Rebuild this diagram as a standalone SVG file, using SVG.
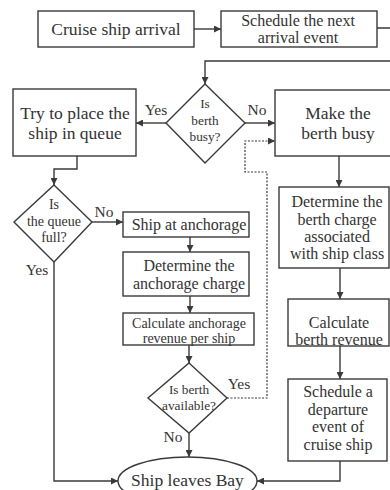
<svg xmlns="http://www.w3.org/2000/svg" width="390" height="490" viewBox="0 0 390 490">
<defs>
<marker id="ah" viewBox="0 0 10 10" refX="10" refY="5" markerWidth="7" markerHeight="7" markerUnits="userSpaceOnUse" orient="auto">
<path d="M0,0 L10,5 L0,10 Z" fill="#3a3a3a"/>
</marker>
</defs>
<style>
.n{fill:#fff;stroke:#3a3a3a;stroke-width:1.4}
.c{fill:none;stroke:#3a3a3a;stroke-width:1.4;marker-end:url(#ah)}
.d{stroke-dasharray:2,1.5;stroke-width:1.2}
text{font-family:'Liberation Serif','DejaVu Serif',serif;fill:#333;text-anchor:middle}
.l{font-size:17.5px}
.m{font-size:16px}
.s{font-size:14px}
.t{font-size:13.3px}
.lab{font-size:15.5px}
</style>
<rect width="390" height="490" fill="#fff"/>
<g id="connectors" font-family="Liberation Serif, serif">
<path class="c" d="M194,29 H221"/>
<path class="c" d="M377,28 H396 V61 H205 V84"/>
<path class="c" d="M166,123 H136"/>
<path class="c" d="M245,123 H275"/>
<path class="c" d="M77,156 V169 H54 V185"/>
<path class="c" d="M92,222 H123"/>
<path class="c" d="M190,237 V252"/>
<path class="c" d="M190,296 V313"/>
<path class="c" d="M189,345 V363"/>
<path class="c" d="M189,433 V457"/>
<path class="c" d="M54,262 V481 H118"/>
<path class="c d" d="M227,398 H267 V172 H245 V141 H275"/>
<path class="c" d="M339,156 V187"/>
<path class="c" d="M340,268 V299"/>
<path class="c" d="M340,346 V379"/>
<path class="c" d="M340,461 V481 H257"/>
<text class="lab" x="156" y="115">Yes</text>
<text class="lab" x="257" y="115">No</text>
<text class="lab" x="104" y="217">No</text>
<text class="lab" x="37" y="275">Yes</text>
<text class="lab" x="239" y="389">Yes</text>
<text class="lab" x="173" y="442">No</text>
</g>
<g id="n1">
<rect class="n" x="38" y="11" width="156" height="36"/>
<text class="l" x="116" y="35">Cruise ship arrival</text>
</g>
<g id="n2">
<rect class="n" x="221" y="11" width="156" height="36"/>
<text class="m" x="298" y="26">Schedule the next</text>
<text class="m" x="298" y="43">arrival event</text>
</g>
<g id="n3">
<polygon class="n" points="205,84 245,123 205,163 166,123"/>
<text class="t" x="205" y="108">Is</text>
<text class="t" x="205" y="125">berth</text>
<text class="t" x="205" y="141">busy?</text>
</g>
<g id="n4">
<rect class="n" x="13" y="89" width="123" height="67"/>
<text class="l" x="75" y="119">Try to place the</text>
<text class="l" x="75" y="139">ship in queue</text>
</g>
<g id="n5">
<rect class="n" x="275" y="90" width="126" height="66"/>
<text class="l" x="338" y="119">Make the</text>
<text class="l" x="338" y="139">berth busy</text>
</g>
<g id="n6">
<polygon class="n" points="54,185 92,222 54,262 14,222"/>
<text class="s" x="54" y="209">Is</text>
<text class="s" x="54" y="226">the queue</text>
<text class="s" x="54" y="242">full?</text>
</g>
<g id="n7">
<rect class="n" x="123" y="212" width="126" height="25"/>
<text class="m" x="189" y="230">Ship at anchorage</text>
</g>
<g id="n8">
<rect class="n" x="123" y="252" width="126" height="44"/>
<text class="m" x="189" y="271">Determine the</text>
<text class="m" x="189" y="289">anchorage charge</text>
</g>
<g id="n9">
<rect class="n" x="123" y="313" width="131" height="32"/>
<text class="s" x="189" y="327.5">Calculate anchorage</text>
<text class="s" x="189" y="343">revenue per ship</text>
</g>
<g id="n10">
<polygon class="n" points="189,363 227,398 189,433 148,398"/>
<text class="t" x="189" y="394">Is berth</text>
<text class="t" x="189" y="410">available?</text>
</g>
<g id="n11">
<rect class="n" x="279" y="187" width="110" height="81"/>
<text class="m" x="337" y="207">Determine the</text>
<text class="m" x="337" y="224.5">berth charge</text>
<text class="m" x="337" y="242">associated</text>
<text class="m" x="337" y="259">with ship class</text>
</g>
<g id="n12">
<rect class="n" x="288" y="299" width="101" height="47"/>
<text class="m" x="339" y="328">Calculate</text>
<text class="m" x="339" y="345">berth revenue</text>
</g>
<g id="n13">
<rect class="n" x="288" y="379" width="99" height="82"/>
<text class="m" x="338" y="397">Schedule a</text>
<text class="m" x="338" y="414.5">departure</text>
<text class="m" x="338" y="432">event of</text>
<text class="m" x="338" y="450">cruise ship</text>
</g>
<g id="n14">
<ellipse class="n" cx="187.5" cy="481" rx="69.5" ry="24"/>
<text class="l" x="187.5" y="486">Ship leaves Bay</text>
</g>
</svg>
